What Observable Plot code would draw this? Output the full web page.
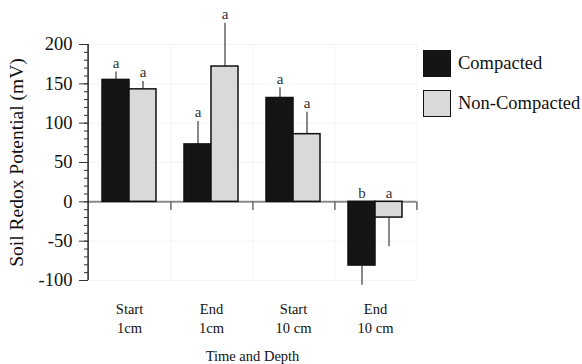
<!DOCTYPE html>
<html>
<head>
<meta charset="utf-8">
<script src="https://cdn.jsdelivr.net/npm/d3@7"></script>
<script src="https://cdn.jsdelivr.net/npm/@observablehq/plot@0.6"></script>
<style>
  body { margin: 0; background: #fff; }
  #wrap { position: relative; width: 582px; height: 364px; font-family: "Liberation Serif", "Times New Roman", serif; }
  #chart svg, #chart svg text { font-family: "Liberation Serif", "Times New Roman", serif !important; }
  #legend { position: absolute; left: 423px; top: 50px; font-size: 18.5px; color: #111; }
  .row { display: flex; align-items: center; height: 27px; margin-bottom: 13px; }
  .sw { width: 26px; height: 25px; border: 1.5px solid #111; margin-right: 7px; box-sizing: content-box; }
</style>
</head>
<body>
<div id="wrap">
  <div id="chart"></div>
  <div id="legend"></div>
</div>
<script>
const groups = ["Start\n1cm", "End\n1cm", "Start\n10 cm", "End\n10 cm"];
const seriesNames = ["Compacted", "Non-Compacted"];
const compacted = [155, 73, 132, -81];
const compactedErr = [165, 102, 145, -106];
const compactedLetters = ["a", "a", "a", "b"];
const nonCompacted = [143, 172, 86, -20];
const nonCompactedErr = [153, 227, 114, -57];
const nonCompactedLetters = ["a", "a", "a", "a"];
const yMajorTicks = [-100, -50, 0, 50, 100, 150, 200];
const yMinorTicks = d3.range(-100, 201, 10);
const colors = ["#151515", "#d9d9d9"];

const data = [];
groups.forEach((g, i) => {
  data.push({group: g, series: seriesNames[0], value: compacted[i], err: compactedErr[i], letter: compactedLetters[i]});
  data.push({group: g, series: seriesNames[1], value: nonCompacted[i], err: nonCompactedErr[i], letter: nonCompactedLetters[i]});
});

const font = "Liberation Serif";
const chart = Plot.plot({
  width: 582,
  height: 364,
  marginLeft: 86,
  marginRight: 165,
  marginTop: 44,
  marginBottom: 84,
  style: {fontFamily: font, background: "#fff", color: "#111"},
  fx: {domain: groups, padding: 0},
  x: {domain: seriesNames, paddingInner: 0, paddingOuter: 0.48, axis: null},
  y: {domain: [-100, 200]},
  color: {domain: seriesNames, range: colors},
  marks: [
    Plot.gridY(yMajorTicks.filter(d => d !== 0), {stroke: "#f4f4f4", strokeOpacity: 1, strokeWidth: 1}),
    Plot.ruleX(groups, {fx: d => d, x: null, y1: -100, y2: 200, dx: 41.4, stroke: "#f4f4f4", strokeWidth: 1}),
    Plot.ruleY([0], {stroke: "#8a8a8a", strokeWidth: 2}),
    Plot.ruleX(groups, {fx: d => d, x: null, y1: 0, y2: -11, dx: 41.4, stroke: "#6a6a6a", strokeWidth: 1.5}),
    Plot.ruleY(data, {fx: "group", x: "series", y: "err", stroke: "#4a4a4a", strokeWidth: 1.5, insetLeft: 8, insetRight: 8}),
    Plot.ruleX(data, {fx: "group", x: "series", y1: "value", y2: "err", stroke: "#4a4a4a", strokeWidth: 1.3}),
    Plot.barY(data, {fx: "group", x: "series", y: "value", fill: "series", stroke: "#111", strokeWidth: 1.5}),
    Plot.text(data, {fx: "group", x: "series", y: d => d.value >= 0 ? d.err : 0, text: "letter", dy: -9, fontSize: 15, fill: "#333"}),
    Plot.ruleX([groups[0]], {fx: d => d, x: null, y1: -100, y2: 200, dx: -41.4, stroke: "#222", strokeWidth: 1.5}),
    Plot.axisY(yMinorTicks, {tickSize: 4, tickFormat: () => "", label: null, stroke: "#333"}),
    Plot.axisY(yMajorTicks, {tickSize: 9, tickPadding: 7, tickFormat: d => String(d), fontSize: 18.5, stroke: "#333",
      label: "Soil Redox Potential (mV)", labelAnchor: "center", labelArrow: "none", labelOffset: 79}),
    Plot.axisFx({anchor: "bottom", tickSize: 0, tickPadding: 20, fontSize: 14.5, lineHeight: 1.33,
      label: "Time and Depth", labelAnchor: "center", labelArrow: "none", labelOffset: 80})
  ]
});
document.getElementById("chart").appendChild(chart);

chart.querySelectorAll("g[aria-label='y-axis label'] text").forEach(t => t.setAttribute("font-size", 19.5));
chart.querySelectorAll("g[aria-label='fx-axis label'] text").forEach(t => t.setAttribute("font-size", 14.5));

const legend = document.getElementById("legend");
seriesNames.forEach((s, i) => {
  const row = document.createElement("div");
  row.className = "row";
  const sw = document.createElement("div");
  sw.className = "sw";
  sw.style.background = colors[i];
  const lab = document.createElement("span");
  lab.textContent = s;
  row.appendChild(sw);
  row.appendChild(lab);
  legend.appendChild(row);
});
</script>
</body>
</html>
